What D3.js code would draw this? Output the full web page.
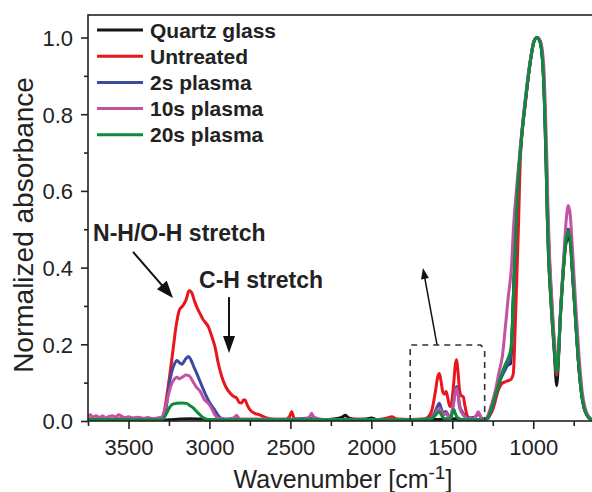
<!doctype html>
<html lang="en">
<head>
<meta charset="utf-8">
<title>Normalized absorbance spectra</title>
<style>
  body { margin: 0; background: #fff; }
  svg { display: block; font-family: "Liberation Sans", Arial, Helvetica, sans-serif; }
  .tick text { font-size: 22px; fill: #222; }
  .tick line { stroke: #222; stroke-width: 1.6px; }
  .legend text, .note { font-weight: bold; fill: #222; }
</style>
</head>
<body>
<svg id="chart" width="592" height="492"></svg>
<script src="https://d3js.org/d3.v7.min.js"></script>
<script>
// series names + colours (legend order)
const seriesNames = ["Quartz glass", "Untreated", "2s plasma", "10s plasma", "20s plasma"];
const seriesColors = ["#151515", "#e8161d", "#3c4ba0", "#c452a2", "#0d8a3d"];

// [wavenumber cm-1, normalized absorbance]
const quartz = [
  [3750,0.002],[3600,0.002],[3450,0.002],[3300,0.002],[3250,0.003],[3180,0.005],[3120,0.006],[3050,0.005],
  [2980,0.003],[2900,0.002],[2700,0.002],[2500,0.003],[2300,0.003],[2220,0.006],[2180,0.01],[2160,0.015],
  [2140,0.008],[2100,0.004],[2030,0.005],[2000,0.008],[1970,0.004],[1900,0.003],[1800,0.003],[1700,0.003],
  [1600,0.004],[1520,0.005],[1480,0.006],[1440,0.003],[1350,0.002],[1300,0.003],[1280,0.008],[1260,0.03],
  [1236,0.063],[1215,0.093],[1194,0.12],[1175,0.138],[1160,0.145],[1148,0.148],[1140,0.15],[1133,0.2],
  [1123,0.32],[1110,0.47],[1100,0.58],[1079,0.705],[1048,0.835],[1017,0.94],[996,0.988],[977,1.0],
  [958,0.99],[940,0.93],[928,0.81],[919,0.68],[911,0.55],[904,0.46],[889,0.33],[870,0.19],[860,0.11],
  [855,0.092],[849,0.12],[833,0.27],[813,0.4],[797,0.465],[783,0.48],[770,0.46],[761,0.405],[741,0.28],
  [720,0.15],[699,0.063],[685,0.032],[669,0.016],[650,0.006],[630,0.002],[600,0.001]
];

const untreated = [
  [3750,0.006],[3650,0.005],[3550,0.006],[3450,0.005],[3350,0.005],[3300,0.008],[3285,0.015],[3265,0.06],
  [3245,0.12],[3225,0.185],[3205,0.25],[3185,0.29],[3165,0.3],[3145,0.315],[3125,0.34],[3110,0.335],
  [3090,0.31],[3070,0.29],[3058,0.28],[3040,0.265],[3007,0.246],[2985,0.22],[2966,0.194],[2945,0.15],
  [2924,0.116],[2900,0.09],[2873,0.073],[2850,0.064],[2832,0.06],[2815,0.048],[2801,0.047],[2790,0.055],
  [2780,0.055],[2765,0.04],[2749,0.029],[2720,0.02],[2690,0.016],[2646,0.008],[2600,0.004],[2530,0.004],
  [2505,0.012],[2492,0.024],[2478,0.008],[2450,0.003],[2300,0.004],[2200,0.004],[2100,0.005],[2000,0.003],
  [1900,0.008],[1874,0.011],[1840,0.005],[1760,0.004],[1680,0.005],[1650,0.01],[1625,0.03],[1605,0.075],
  [1590,0.115],[1580,0.124],[1570,0.105],[1558,0.075],[1548,0.07],[1538,0.077],[1528,0.06],[1515,0.038],
  [1505,0.045],[1492,0.095],[1480,0.15],[1473,0.16],[1465,0.13],[1455,0.08],[1445,0.066],[1432,0.063],
  [1422,0.04],[1411,0.018],[1395,0.006],[1350,0.004],[1300,0.004],[1280,0.008],[1250,0.03],[1215,0.081],
  [1195,0.097],[1174,0.102],[1150,0.106],[1135,0.11],[1123,0.124],[1112,0.237],[1102,0.368],[1092,0.498],
  [1079,0.69],[1048,0.83],[1017,0.94],[996,0.99],[977,1.0],[958,0.988],[940,0.92],[928,0.79],[920,0.66],
  [913,0.53],[905,0.43],[892,0.32],[872,0.19],[860,0.13],[855,0.12],[847,0.15],[831,0.28],[811,0.41],
  [795,0.485],[783,0.5],[770,0.475],[761,0.41],[741,0.28],[720,0.15],[699,0.063],[680,0.03],[669,0.016],
  [650,0.006],[630,0.003],[600,0.002]
];

const plasma2s = [
  [3750,0.003],[3600,0.003],[3450,0.004],[3300,0.003],[3280,0.01],[3265,0.04],[3254,0.08],[3235,0.125],
  [3215,0.15],[3200,0.158],[3185,0.152],[3170,0.148],[3150,0.16],[3130,0.168],[3115,0.16],[3095,0.14],
  [3079,0.125],[3050,0.095],[3017,0.063],[2990,0.042],[2966,0.028],[2945,0.014],[2920,0.006],[2880,0.003],
  [2840,0.008],[2825,0.003],[2700,0.003],[2500,0.004],[2380,0.008],[2350,0.004],[2200,0.004],[2000,0.003],
  [1800,0.004],[1700,0.004],[1640,0.006],[1610,0.02],[1590,0.04],[1580,0.046],[1570,0.035],[1555,0.02],
  [1540,0.025],[1525,0.015],[1510,0.01],[1495,0.04],[1480,0.08],[1473,0.09],[1465,0.075],[1455,0.04],
  [1440,0.025],[1425,0.015],[1410,0.008],[1360,0.01],[1338,0.018],[1320,0.008],[1300,0.003],[1280,0.008],
  [1250,0.04],[1230,0.07],[1205,0.105],[1175,0.132],[1155,0.148],[1145,0.155],[1133,0.2],[1123,0.32],
  [1110,0.47],[1100,0.58],[1079,0.707],[1048,0.837],[1017,0.941],[996,0.989],[977,1.0],[958,0.989],
  [940,0.924],[928,0.793],[920,0.663],[913,0.533],[907,0.446],[892,0.324],[872,0.2],[860,0.135],
  [855,0.125],[848,0.15],[831,0.285],[811,0.415],[795,0.49],[783,0.5],[770,0.475],[761,0.415],[741,0.285],
  [720,0.152],[699,0.064],[685,0.033],[669,0.016],[650,0.006],[630,0.002],[600,0.001]
];

const plasma10s = [
  [3750,0.012],[3735,0.016],[3720,0.01],[3700,0.014],[3680,0.009],[3660,0.013],[3640,0.008],[3620,0.012],
  [3600,0.014],[3580,0.011],[3560,0.016],[3540,0.012],[3520,0.009],[3500,0.011],[3470,0.008],[3440,0.01],
  [3410,0.007],[3380,0.009],[3350,0.006],[3320,0.008],[3295,0.01],[3275,0.03],[3255,0.065],[3235,0.095],
  [3215,0.11],[3200,0.114],[3185,0.11],[3165,0.115],[3145,0.12],[3125,0.118],[3105,0.105],[3080,0.088],
  [3058,0.078],[3030,0.055],[3007,0.046],[2985,0.032],[2966,0.016],[2945,0.007],[2900,0.005],[2850,0.008],
  [2832,0.015],[2815,0.006],[2700,0.005],[2500,0.005],[2400,0.006],[2380,0.012],[2369,0.02],[2355,0.01],
  [2300,0.004],[2200,0.003],[2000,0.004],[1900,0.003],[1800,0.004],[1700,0.004],[1640,0.005],[1610,0.015],
  [1590,0.03],[1580,0.033],[1568,0.025],[1555,0.015],[1540,0.02],[1525,0.012],[1510,0.01],[1495,0.04],
  [1480,0.078],[1473,0.085],[1465,0.07],[1455,0.035],[1440,0.02],[1425,0.012],[1410,0.006],[1370,0.006],
  [1352,0.015],[1340,0.024],[1328,0.015],[1315,0.005],[1300,0.004],[1285,0.01],[1260,0.04],[1233,0.081],
  [1210,0.13],[1191,0.168],[1174,0.237],[1154,0.324],[1133,0.411],[1123,0.498],[1100,0.62],[1079,0.72],
  [1048,0.845],[1017,0.945],[996,0.99],[975,1.0],[955,0.99],[935,0.925],[924,0.8],[915,0.67],[908,0.54],
  [901,0.45],[887,0.33],[869,0.21],[858,0.155],[853,0.148],[845,0.18],[829,0.31],[810,0.44],[795,0.53],
  [783,0.562],[771,0.535],[758,0.45],[738,0.305],[717,0.17],[697,0.075],[680,0.035],[665,0.017],
  [645,0.006],[620,0.003],[600,0.002]
];

const plasma20s = [
  [3750,0.003],[3600,0.004],[3450,0.003],[3300,0.003],[3285,0.006],[3265,0.02],[3244,0.037],[3220,0.045],
  [3202,0.046],[3170,0.047],[3141,0.046],[3120,0.04],[3100,0.034],[3080,0.025],[3058,0.016],[3040,0.009],
  [3027,0.006],[3000,0.003],[2800,0.003],[2600,0.003],[2400,0.004],[2200,0.003],[2000,0.003],[1800,0.003],
  [1700,0.003],[1640,0.005],[1610,0.012],[1595,0.02],[1582,0.024],[1570,0.018],[1555,0.008],[1530,0.005],
  [1510,0.006],[1500,0.02],[1490,0.03],[1480,0.018],[1465,0.008],[1440,0.004],[1400,0.003],[1300,0.003],
  [1285,0.006],[1260,0.03],[1236,0.063],[1215,0.095],[1194,0.124],[1175,0.145],[1154,0.165],[1140,0.185],
  [1133,0.211],[1123,0.324],[1110,0.47],[1100,0.58],[1079,0.707],[1048,0.837],[1017,0.941],[996,0.989],
  [977,1.0],[958,0.989],[940,0.924],[928,0.793],[920,0.663],[913,0.533],[907,0.446],[892,0.324],
  [872,0.2],[860,0.14],[855,0.128],[848,0.148],[831,0.281],[811,0.411],[795,0.48],[783,0.495],[770,0.47],
  [761,0.411],[741,0.281],[720,0.15],[699,0.063],[685,0.032],[669,0.016],[650,0.006],[630,0.002],[600,0.001]
];

const seriesData = [quartz, untreated, plasma2s, plasma10s, plasma20s];

// axis ticks
const xMajor = [3500, 3000, 2500, 2000, 1500, 1000];
const xMinor = [3750, 3250, 2750, 2250, 1750, 1250, 750];
const yMajor = [0, 0.2, 0.4, 0.6, 0.8, 1.0];
const yMinor = [0.1, 0.3, 0.5, 0.7, 0.9];

// annotations, in data units
const notes = [
  { text: "N-H/O-H stretch", w: 3719, v: 0.469 },
  { text: "C-H stretch", w: 3064, v: 0.347 },
];
const arrows = [
  { from: [3472, 0.441], to: [3225, 0.321], head: 17, half: 6.5, width: 2 },
  { from: [2879, 0.323], to: [2879, 0.177], head: 17, half: 6, width: 2 },
  { from: [1594, 0.198], to: [1681, 0.399], head: 11, half: 4, width: 1.5 },
];
const zoomBox = { w0: 1760, w1: 1300, v0: 0, v1: 0.198 };

const W = 592, H = 492;
const plotL = 88, plotT = 15, plotR = 598, plotB = 421;

const svg = d3.select("#chart");
svg.append("rect").attr("width", W).attr("height", H).attr("fill", "#fff");

const x = d3.scaleLinear().domain([3750, 600]).range([plotL, plotR]);
const y = d3.scaleLinear().domain([0, 1.0587]).range([plotB, plotT]);

svg.append("defs").append("clipPath").attr("id", "plot")
  .append("rect").attr("x", plotL).attr("y", plotT).attr("width", plotR - plotL).attr("height", plotB - plotT);

// ---- axes ----
const gx = svg.append("g").attr("transform", `translate(0,${plotB})`)
  .call(d3.axisBottom(x).tickValues(xMajor).tickSize(8).tickPadding(10).tickFormat(d3.format("d")));
gx.select(".domain").remove();
const gxm = svg.append("g").attr("transform", `translate(0,${plotB})`)
  .call(d3.axisBottom(x).tickValues(xMinor).tickSize(5).tickFormat(""));
gxm.select(".domain").remove();

const gy = svg.append("g").attr("transform", `translate(${plotL},0)`)
  .call(d3.axisLeft(y).tickValues(yMajor).tickSize(7).tickPadding(8).tickFormat(d3.format(".1f")));
gy.select(".domain").remove();
const gym = svg.append("g").attr("transform", `translate(${plotL},0)`)
  .call(d3.axisLeft(y).tickValues(yMinor).tickSize(4).tickFormat(""));
gym.select(".domain").remove();
gy.selectAll(".tick text").attr("dy", "0.36em");

// ---- spectra ----
const line = d3.line()
  .x(d => x(d[0]))
  .y(d => y(d[1]))
  .curve(d3.curveMonotoneX);

svg.append("g").attr("clip-path", "url(#plot)")
  .selectAll("path")
  .data(seriesData)
  .join("path")
  .attr("d", line)
  .attr("fill", "none")
  .attr("stroke", (d, i) => seriesColors[i])
  .attr("stroke-width", 3)
  .attr("stroke-linejoin", "round");

// frame on top of curves
svg.append("rect")
  .attr("x", plotL).attr("y", plotT)
  .attr("width", plotR - plotL).attr("height", plotB - plotT)
  .attr("fill", "none").attr("stroke", "#222").attr("stroke-width", 1.6);

// ---- axis titles ----
svg.append("text")
  .attr("transform", `translate(33,225) rotate(-90)`)
  .attr("text-anchor", "middle")
  .attr("font-size", 28).attr("fill", "#222")
  .text("Normalized absorbance");

const xt = svg.append("text")
  .attr("x", (plotL + plotR) / 2).attr("y", 488)
  .attr("text-anchor", "middle")
  .attr("font-size", 25).attr("fill", "#222");
xt.append("tspan").text("Wavenumber [cm");
xt.append("tspan").attr("dy", -9).attr("font-size", 19).text("-1");
xt.append("tspan").attr("dy", 9).text("]");

// ---- legend ----
const legend = svg.append("g").attr("class", "legend");
const rows = legend.selectAll("g").data(seriesNames).join("g")
  .attr("transform", (d, i) => `translate(97,${30 + i * 26.2})`);
rows.append("line").attr("x1", 0).attr("x2", 46)
  .attr("stroke", (d, i) => seriesColors[i]).attr("stroke-width", 3);
rows.append("text").attr("x", 53).attr("dy", "0.36em")
  .attr("font-size", 21).text(d => d);

// ---- annotations ----
svg.selectAll("text.note").data(notes).join("text")
  .attr("class", "note")
  .attr("x", d => x(d.w)).attr("y", d => y(d.v))
  .attr("font-size", 23)
  .text(d => d.text);

arrows.forEach(a => {
  const x0 = x(a.from[0]), y0 = y(a.from[1]);
  const x1 = x(a.to[0]), y1 = y(a.to[1]);
  const len = Math.hypot(x1 - x0, y1 - y0);
  const ux = (x1 - x0) / len, uy = (y1 - y0) / len;
  const bx = x1 - ux * a.head, by = y1 - uy * a.head;
  svg.append("line")
    .attr("x1", x0).attr("y1", y0).attr("x2", bx + ux * 2).attr("y2", by + uy * 2)
    .attr("stroke", "#111").attr("stroke-width", a.width);
  svg.append("path")
    .attr("d", `M${x1},${y1}L${bx - uy * a.half},${by + ux * a.half}L${bx + uy * a.half},${by - ux * a.half}Z`)
    .attr("fill", "#111");
});

const bx0 = x(zoomBox.w0), bx1 = x(zoomBox.w1);
const by0 = y(zoomBox.v0), by1 = y(zoomBox.v1);
svg.append("path")
  .attr("d", `M${bx0},${by0}V${by1}H${bx1 - 4}L${bx1},${by1 + 4}V${by0}`)
  .attr("fill", "none")
  .attr("stroke", "#333").attr("stroke-width", 1.6)
  .attr("stroke-dasharray", "6,5");
</script>
</body>
</html>
